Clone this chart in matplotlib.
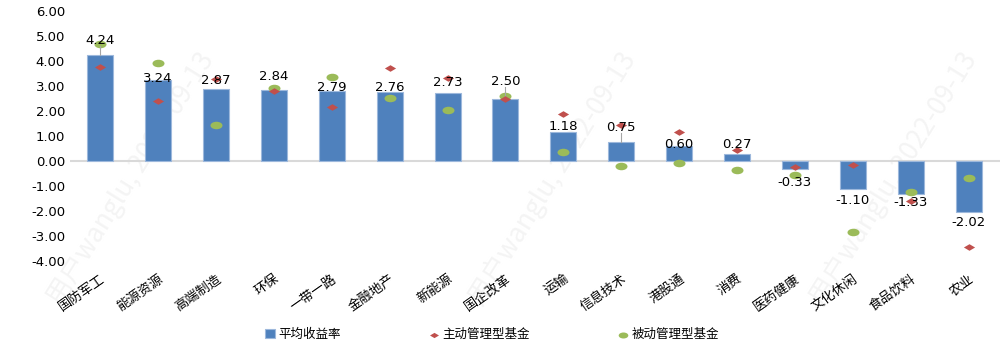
import numpy as np
import matplotlib
matplotlib.use("Agg")
import matplotlib.pyplot as plt
from matplotlib.path import Path

plt.rcParams['font.family'] = ['Noto Sans CJK SC', 'DejaVu Sans']

# data
categories = ['国防军工', '能源资源', '高端制造', '环保', '一带一路', '金融地产', '新能源', '国企改革',
              '运输', '信息技术', '港股通', '消费', '医药健康', '文化休闲', '食品饮料', '农业']
avg_return = [4.24, 3.24, 2.87, 2.84, 2.79, 2.76, 2.73, 2.50,
              1.18, 0.75, 0.60, 0.27, -0.33, -1.10, -1.33, -2.02]
active_fund = [3.76, 2.41, 3.27, 2.80, 2.17, 3.72, 3.31, 2.47,
               1.90, 1.45, 1.17, 0.45, -0.25, -0.17, -1.60, -3.43]
passive_fund = [4.68, 3.92, 1.45, 2.93, 3.35, 2.51, 2.03, 2.60,
                0.35, -0.19, -0.09, -0.35, -0.57, -2.83, -1.25, -0.68]
# where Excel placed the data labels (value units)
label_pos = [4.84, 3.32, 3.24, 3.40, 2.96, 2.96, 3.16, 3.20,
             1.40, 1.36, 0.68, 0.68, -0.84, -1.56, -1.64, -2.44]
leader = [True, False, False, False, False, False, False, True,
          False, True, False, False, False, False, False, False]
yticks = [-4, -3, -2, -1, 0, 1, 2, 3, 4, 5, 6]

BLUE = '#4F81BD'
RED = '#C0504D'
GREEN = '#9BBB59'

# wide markers (the source picture is stretched horizontally)
circ = Path.unit_circle()
ellipse = Path(circ.vertices * np.array([1.6, 1.0]), circ.codes)
diamond = Path([(0, 1), (1.7, 0), (0, -1), (-1.7, 0), (0, 1)],
               [Path.MOVETO, Path.LINETO, Path.LINETO, Path.LINETO, Path.CLOSEPOLY])

fig = plt.figure(figsize=(10.04, 3.58), dpi=100)

# faint watermark, behind everything
for wx, wy in [(0.13, 0.5), (0.55, 0.5), (0.89, 0.5)]:
    fig.text(wx, wy, '用户wanglu, 2022-09-13', fontsize=19, color='#f4f4f4',
             rotation=58, ha='center', va='center', zorder=-5)

ax = fig.add_axes([0.0697, 0.271, 0.9263, 0.698])
ax.patch.set_alpha(0)

x = np.arange(len(categories))
bars = ax.bar(x, avg_return, width=0.45, color=BLUE, edgecolor='#9db8dc', linewidth=0.8,
              zorder=2, label='平均收益率')
ax.axhline(0, color='#d9d9d9', linewidth=1.5, zorder=1)
act = ax.scatter(x, active_fund, marker=diamond, s=65, color=RED, zorder=4,
                 label='主动管理型基金', linewidths=0)
pas = ax.scatter(x, passive_fund, marker=ellipse, s=75, color=GREEN, zorder=3,
                 label='被动管理型基金', linewidths=0)

for i, (v, ly) in enumerate(zip(avg_return, label_pos)):
    ax.text(i, ly, '%.2f' % v, ha='center', va='center', fontsize=9.5,
            family=['DejaVu Sans'], zorder=5)
    if leader[i]:
        ax.plot([i, i], [v, ly - 0.25], color='#a6a6a6', linewidth=0.8, zorder=3)

ax.set_xlim(-0.52, 15.54)
ax.set_ylim(-4, 6)
ax.set_yticks(yticks)
ax.set_yticklabels(['%.2f' % t for t in yticks], family=['DejaVu Sans'], fontsize=9.5)
ax.set_xticks(x)
ax.set_xticklabels(categories, rotation=35, ha='right', rotation_mode='anchor', fontsize=9.5)
ax.tick_params(axis='both', length=0)
ax.tick_params(axis='x', pad=8)
for s in ax.spines.values():
    s.set_visible(False)

fig.legend(handles=[bars, act, pas], loc='center', bbox_to_anchor=(0.49, 0.065), ncol=3,
           frameon=False, fontsize=9, handlelength=0.8, handletextpad=0.3,
           columnspacing=7, markerscale=0.8)

fig.savefig('out.png', dpi=100)
